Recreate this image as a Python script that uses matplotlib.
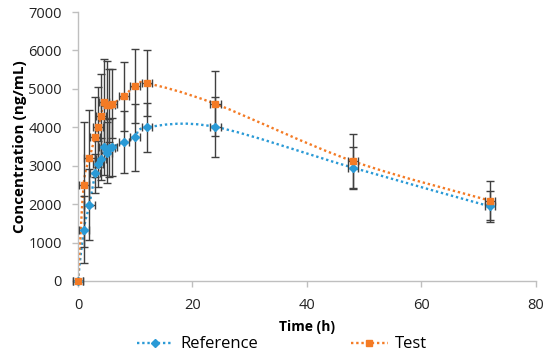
import matplotlib
matplotlib.use("Agg")
import matplotlib.pyplot as plt
from matplotlib.path import Path
from matplotlib.patches import PathPatch
from matplotlib.lines import Line2D
import numpy as np

plt.rcParams['font.family'] = ['Open Sans', 'DejaVu Sans']

time_h = [0, 1, 2, 3, 3.5, 4, 4.5, 5, 5.5, 6, 8, 10, 12, 24, 48, 72]
ref_mean = [0, 1330, 1990, 2800, 3040, 3170, 3490, 3340, 3460, 3480, 3620, 3740, 4000, 4010, 2950, 1940]
ref_sd = [0, 870, 930, 500, 600, 550, 740, 800, 760, 750, 800, 880, 640, 790, 550, 410]
test_mean = [0, 2510, 3190, 3750, 4010, 4290, 4660, 4570, 4580, 4610, 4810, 5080, 5150, 4610, 3120, 2090]
test_sd = [0, 1630, 1250, 1050, 1030, 1100, 1130, 1160, 950, 900, 900, 960, 850, 845, 700, 510]
time_err = 0.9

x_ticks = [0, 20, 40, 60, 80]
y_ticks = [0, 1000, 2000, 3000, 4000, 5000, 6000, 7000]

BLUE = "#2A9AD6"
ORANGE = "#F47B25"
ERR = "#404040"


def smooth_path(x, y):
    p = np.column_stack([x, y]).astype(float)
    n = len(p)
    verts = [p[0]]
    codes = [Path.MOVETO]
    for i in range(n - 1):
        p0 = p[i - 1] if i > 0 else p[i]
        p1 = p[i]
        p2 = p[i + 1]
        p3 = p[i + 2] if i + 2 < n else p[i + 1]
        c1 = p1 + (p2 - p0) / 6.0
        c2 = p2 - (p3 - p1) / 6.0
        verts += [c1, c2, p2]
        codes += [Path.CURVE4] * 3
    return Path(verts, codes)


fig = plt.figure(figsize=(5.5, 3.55), dpi=100)
ax = fig.add_axes([0.1418, 0.2085, 0.8327, 0.7575])

for mean, sd, col, mk, ms in [(ref_mean, ref_sd, BLUE, 'D', 4),
                              (test_mean, test_sd, ORANGE, 's', 5)]:
    patch = PathPatch(smooth_path(time_h, mean), facecolor='none', edgecolor=col,
                      lw=1.7, linestyle=(0, (1, 1.2)), zorder=2)
    ax.add_patch(patch)
    ax.errorbar(time_h, mean, yerr=sd, xerr=time_err, fmt='none', ecolor=ERR,
                elinewidth=1.0, capsize=3, capthick=1.0, zorder=3, clip_on=False)
    ax.plot(time_h, mean, linestyle='none', marker=mk, ms=ms, color=col,
            zorder=4, clip_on=False)

ax.set_xlim(0, 80)
ax.set_ylim(0, 7000)
ax.set_xticks(x_ticks)
ax.set_yticks(y_ticks)
for s in ['top', 'right']:
    ax.spines[s].set_visible(False)
for s in ['left', 'bottom']:
    ax.spines[s].set_color('#BFBFBF')
    ax.spines[s].set_linewidth(1.0)
ax.tick_params(axis='both', colors='#BFBFBF', labelcolor='#222222', labelsize=10.5,
               length=4, width=1.0, direction='out')
ax.tick_params(axis='x', pad=8)
ax.tick_params(axis='y', pad=7.5)

ax.set_xlabel('Time (h)', fontsize=10, fontweight='bold', labelpad=5)
ax.set_ylabel('Concentration (ng/mL)', fontsize=11, fontweight='bold', labelpad=1)

h1 = Line2D([], [], color=BLUE, lw=1.7, linestyle=(0, (1, 1.2)), marker='D', ms=4)
h2 = Line2D([], [], color=ORANGE, lw=1.7, linestyle=(0, (1, 1.2)), marker='s', ms=5)
fig.legend([h1, h2], ['Reference', 'Test'], loc='lower center',
           bbox_to_anchor=(0.512, -0.035), ncol=2, frameon=False, fontsize=12,
           handlelength=2.2, handletextpad=0.4, columnspacing=5.6, numpoints=1)

fig.savefig('out.png', dpi=100)
